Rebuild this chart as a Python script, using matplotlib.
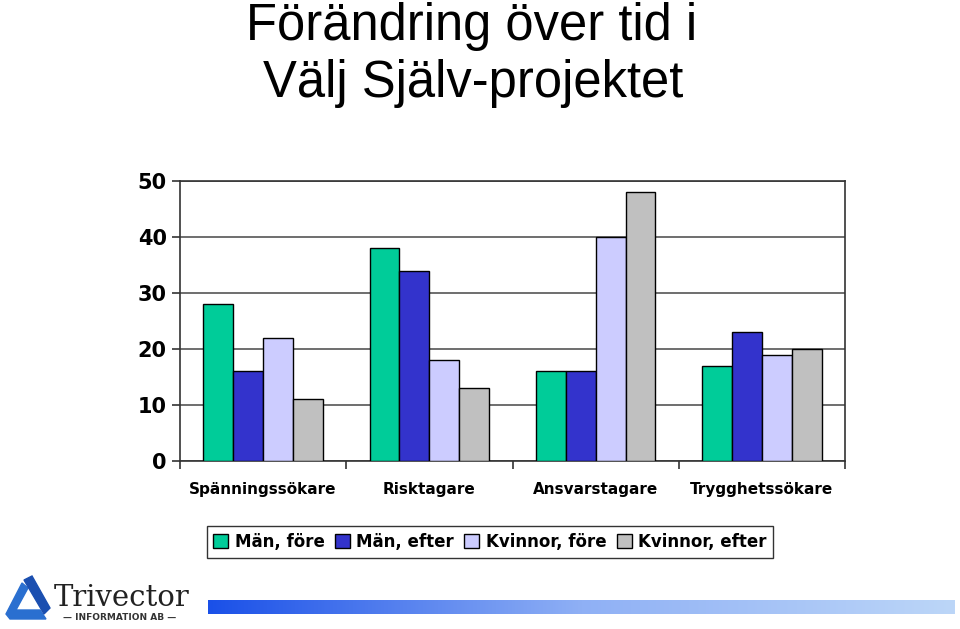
import numpy as np
import matplotlib
matplotlib.use("Agg")
import matplotlib.pyplot as plt
from matplotlib.patches import Polygon
from matplotlib.colors import LinearSegmentedColormap

# data
categories = ["Spänningssökare", "Risktagare", "Ansvarstagare", "Trygghetssökare"]
series_names = ["Män, före", "Män, efter", "Kvinnor, före", "Kvinnor, efter"]
man_fore = [28, 38, 16, 17]
man_efter = [16, 34, 16, 23]
kvinnor_fore = [22, 18, 40, 19]
kvinnor_efter = [11, 13, 48, 20]
yticks = [0, 10, 20, 30, 40, 50]

colors = ["#00CC99", "#3333CC", "#CCCCFF", "#C0C0C0"]
W, H = 960, 629

fig = plt.figure(figsize=(W/100, H/100), dpi=100)

# title
fig.text(472/W, 1-40/H, "Förändring över tid i", ha="center", va="baseline",
         fontsize=36.5, family="Liberation Sans")
fig.text(473/W, 1-97/H, "Välj Själv-projektet", ha="center", va="baseline",
         fontsize=36.5, family="Liberation Sans")

# plot area
ax = fig.add_axes([180/W, 1-461/H, (845-180)/W, (461-181)/H])
x = np.arange(len(categories))
bw = 0.18
allvals = [man_fore, man_efter, kvinnor_fore, kvinnor_efter]
for k, vals in enumerate(allvals):
    ax.bar(x + (k-1.5)*bw, vals, bw, color=colors[k], edgecolor="black",
           linewidth=1.0, label=series_names[k], zorder=3)

ax.set_xlim(-0.5, len(categories)-0.5)
ax.set_ylim(0, 50)
ax.set_yticks(yticks)
ax.set_yticklabels([str(v) for v in yticks], fontsize=15, fontweight="bold",
                   family="DejaVu Sans")
ax.yaxis.grid(True, color="#555555", linewidth=1.2, zorder=0)
ax.set_xticks(x)
ax.set_xticklabels(categories, fontsize=11, fontweight="bold", family="DejaVu Sans")
ax.tick_params(axis="x", length=0, pad=15)
ax.tick_params(axis="y", length=6, direction="out", color="#333333", width=1.2)
# category boundary ticks
ax.set_xticks(np.arange(-0.5, len(categories)), minor=True)
ax.tick_params(axis="x", which="minor", length=6, color="#333333", width=1.2)
for s in ["left", "bottom", "right", "top"]:
    ax.spines[s].set_color("#333333")
    ax.spines[s].set_linewidth(1.2)

leg = fig.legend(loc="center", bbox_to_anchor=(490/W, 1-542/H), ncol=4,
                 frameon=True, fancybox=False, edgecolor="black",
                 prop={"size": 12, "weight": "bold", "family": "DejaVu Sans"},
                 handlelength=0.9, handleheight=0.9, handletextpad=0.4,
                 columnspacing=0.6, borderpad=0.4, borderaxespad=0)
leg.get_frame().set_linewidth(1.0)

# footer: logo and gradient bar
fax = fig.add_axes([0, 0, 1, 1], zorder=-1)
fax.axis("off")
grad = np.linspace(0, 1, 256).reshape(1, -1)
cmap = LinearSegmentedColormap.from_list("g", ["#1a50e8", "#8fb0f5", "#bcd6f8"])
fax.imshow(grad, cmap=cmap, aspect="auto", extent=[208, 955, 614, 600])
logo_blue = "#2a6fd0"
fax.add_patch(Polygon([[6, 614], [22, 583], [28, 588], [16, 610], [40, 610], [46, 619], [10, 619]],
                      closed=True, color=logo_blue))
fax.add_patch(Polygon([[24, 580], [32, 576], [50, 608], [44, 614]], closed=True, color="#1b4fb0"))
fax.text(54, 598, "Trivector", fontsize=21, family="DejaVu Serif", va="center", ha="left",
         color="#222222")
fax.text(120, 617, "— INFORMATION AB —", fontsize=6.5, fontweight="bold",
         va="center", ha="center", color="#333333")
fax.set_xlim(0, W)
fax.set_ylim(H, 0)

fig.savefig("out.png", dpi=100)
